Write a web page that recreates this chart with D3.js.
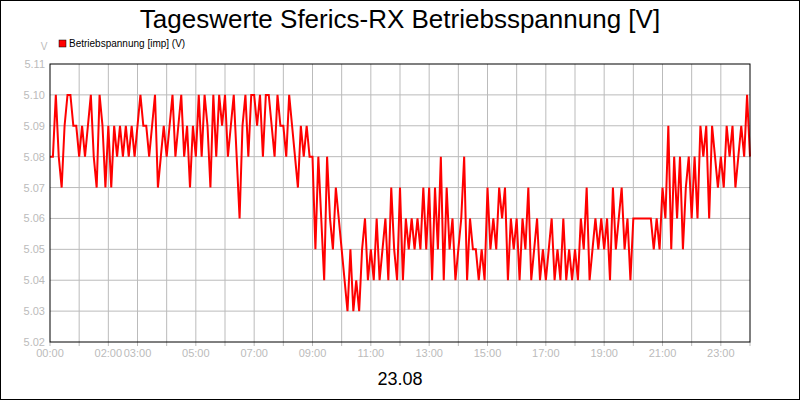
<!DOCTYPE html><html><head><meta charset="utf-8"><script src="https://cdn.jsdelivr.net/npm/d3@7"></script>
<style>body{margin:0}svg{display:block;font-family:Arial,"Liberation Sans",sans-serif}</style></head><body><svg width="800" height="400"></svg>
<script>
const title="Tageswerte Sferics-RX Betriebsspannung [V]";
const seriesName="Betriebspannung [imp] (V)";
const dateLabel="23.08";
const yTicks=[5.02,5.03,5.04,5.05,5.06,5.07,5.08,5.09,5.10,5.11];
const xTickLabels=["00:00","02:00","03:00","05:00","07:00","09:00","11:00","13:00","15:00","17:00","19:00","21:00","23:00"];
// hundredths above 5.00 V, 6-minute steps
const hundredths=[
8,8,10,8,7,9,10,10,9,9, 8,9,8,9,10,8,7,10,9,7, 9,7,9,8,9,8,9,8,9,8, 9,10,9,9,8,9,10,7,8,9,
8,9,10,8,9,10,8,9,7,9, 8,10,8,10,9,7,10,8,10,9, 10,8,9,10,8,6,9,10,8,10, 10,9,10,8,10,10,9,8,10,9,
9,8,10,9,8,7,9,8,9,8, 8,5,8,6,4,8,6,5,7,6, 5,4,3,5,3,4,3,5,6,4, 5,4,6,4,5,6,4,7,5,4,
7,4,6,5,6,5,6,5,7,5, 7,4,7,5,8,4,7,5,6,4, 5,6,8,4,6,5,5,4,5,4, 7,5,6,5,7,6,7,4,6,5,
6,4,6,5,7,4,5,6,4,5, 4,5,6,4,5,4,6,4,5,4, 5,4,6,5,7,4,5,6,5,6, 5,6,4,7,5,6,7,5,6,4,
6,6,6,6,6,6,6,5,6,5, 7,6,9,5,8,6,8,5,7,8, 6,8,6,9,8,9,6,9,8,7, 8,7,9,8,9,7,8,9,8,10,8];
const values=hundredths.map(v=>+(5+v/100).toFixed(2));
const minutes=values.map((v,i)=>i*6);

const svg=d3.select("svg");
svg.append("rect").attr("x",0.5).attr("y",0.5).attr("width",799).attr("height",399).attr("fill","#fff").attr("stroke","#000");
const x=d3.scaleLinear().domain([0,1440]).range([50,750]);
const y=d3.scaleLinear().domain([5.02,5.11]).range([342,64]);
const g=svg.append("g");
const hours=d3.range(0,25);
g.selectAll(".vg").data(hours.slice(1,24)).join("line").attr("x1",h=>x(h*60)).attr("x2",h=>x(h*60)).attr("y1",64).attr("y2",342).attr("stroke","#bbb");
g.selectAll(".hg").data(yTicks.slice(1,9)).join("line").attr("x1",50).attr("x2",750).attr("y1",d=>y(d)).attr("y2",d=>y(d)).attr("stroke","#bbb");
g.selectAll(".tk").data(hours).join("line").attr("x1",h=>x(h*60)).attr("x2",h=>x(h*60)).attr("y1",342).attr("y2",346).attr("stroke","#bbb");
g.selectAll(".yl").data(yTicks).join("text").attr("x",45).attr("y",d=>y(d)+4).attr("text-anchor","end").attr("font-size",11).attr("fill","#bbb").text(d=>d.toFixed(2));
g.selectAll(".xl").data(xTickLabels).join("text").attr("x",d=>x(+d.slice(0,2)*60)).attr("y",357).attr("text-anchor","middle").attr("font-size",11).attr("fill","#bbb").text(d=>d);
const line=d3.line().x((d,i)=>x(minutes[i])).y(d=>y(d));
svg.append("path").datum(values).attr("d",line).attr("fill","none").attr("stroke","#f00").attr("stroke-width",2);
svg.append("rect").attr("x",50).attr("y",64).attr("width",700).attr("height",278).attr("fill","none").attr("stroke","#000");
svg.append("text").attr("x",400).attr("y",28).attr("text-anchor","middle").attr("font-size",26).text(title);
svg.append("text").attr("x",44).attr("y",50).attr("text-anchor","middle").attr("font-size",10).attr("fill","#bbb").text("V");
svg.append("rect").attr("x",59).attr("y",40).attr("width",7).attr("height",7).attr("fill","#f00").attr("stroke","#000").attr("stroke-width",0.5);
svg.append("text").attr("x",69).attr("y",47).attr("font-size",10).text(seriesName);
svg.append("text").attr("x",400).attr("y",385).attr("text-anchor","middle").attr("font-size",18).text(dateLabel);
</script></body></html>
